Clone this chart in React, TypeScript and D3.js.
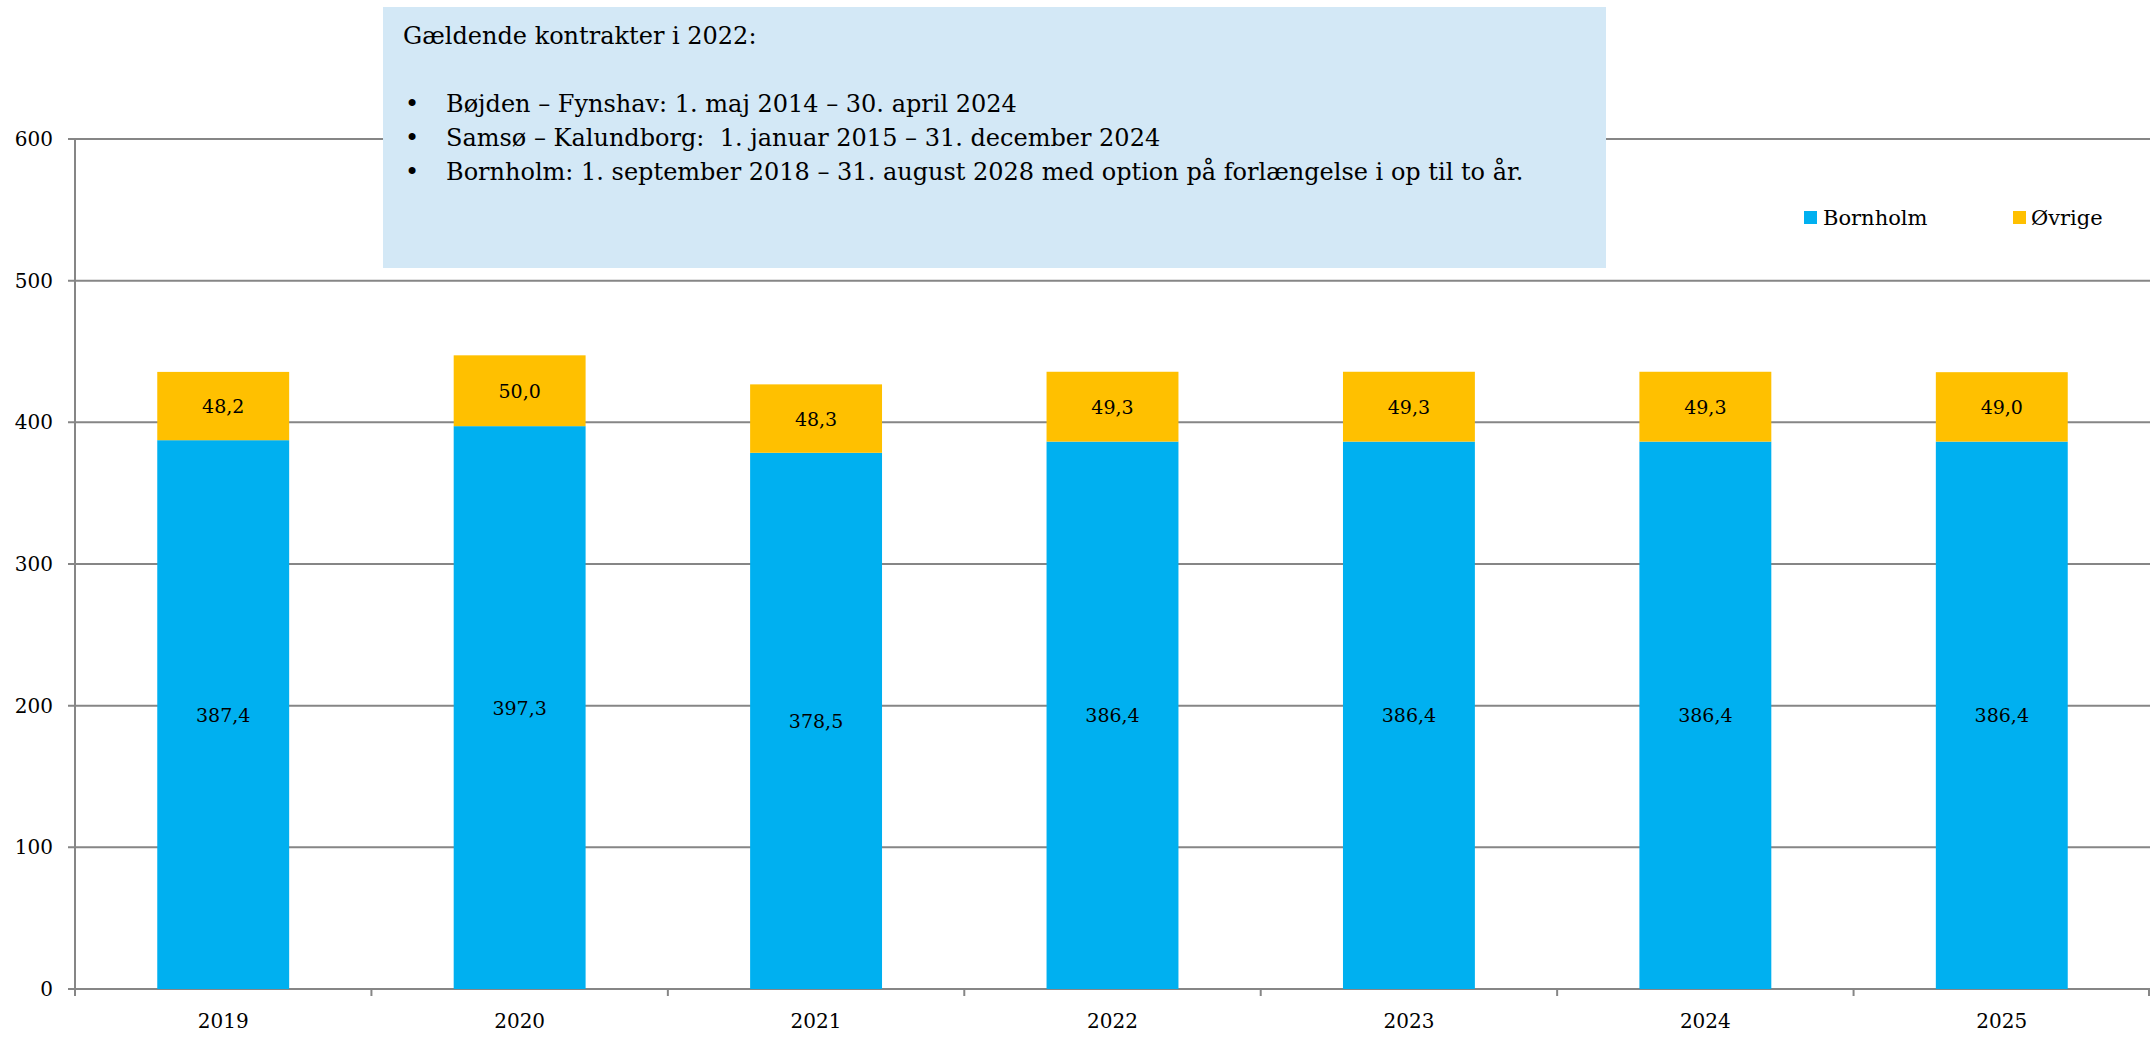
import React from "react";
import * as d3 from "d3";

const years = ["2019", "2020", "2021", "2022", "2023", "2024", "2025"];
const bornholm = [387.4, 397.3, 378.5, 386.4, 386.4, 386.4, 386.4];
const ovrige = [48.2, 50.0, 48.3, 49.3, 49.3, 49.3, 49.0];
const yTicks = [0, 100, 200, 300, 400, 500, 600];
const seriesNames = ["Bornholm", "Øvrige"];
const boxTitle = "Gældende kontrakter i 2022:";
const boxLines = [
  "Bøjden – Fynshav: 1. maj 2014 – 30. april 2024",
  "Samsø – Kalundborg:  1. januar 2015 – 31. december 2024",
  "Bornholm: 1. september 2018 – 31. august 2028 med option på forlængelse i op til to år.",
];

const W = 2151;
const H = 1038;
const FONT = "'DejaVu Serif', Georgia, serif";
const BLUE = "#00B0F0";
const ORANGE = "#FFC000";
const GRID = "#868686";

const fmt = (v: number) => v.toFixed(1).replace(".", ",");

export default function App() {
  const left = 75;
  const right = 2150;
  const y = d3.scaleLinear().domain([0, 600]).range([989, 139]);
  const x = d3.scaleBand<string>().domain(years).range([left, right]).padding(0);
  const barW = x.bandwidth() * 0.445;

  return (
    <svg
      width={W}
      height={H}
      style={{ position: "absolute", left: 0, top: 0, display: "block" }}
      fontFamily={FONT}
    >
      <rect x={0} y={0} width={W} height={H} fill="#fff" />
      {/* gridlines */}
      {yTicks.map((t) => (
        <g key={t}>
          <line x1={left - 7} x2={right} y1={y(t)} y2={y(t)} stroke={GRID} strokeWidth={2} />
          <text
            x={53}
            y={y(t)}
            textAnchor="end"
            dominantBaseline="central"
            fontSize={20}
            fill="#000"
          >
            {t}
          </text>
        </g>
      ))}
      {/* y axis */}
      <line x1={left} x2={left} y1={y(600)} y2={y(0)} stroke={GRID} strokeWidth={2} />
      {/* x ticks */}
      {years.map((yr) => (
        <line
          key={"t" + yr}
          x1={x(yr)!}
          x2={x(yr)!}
          y1={y(0)}
          y2={y(0) + 7}
          stroke={GRID}
          strokeWidth={2}
        />
      ))}
      <line x1={right - 1} x2={right - 1} y1={y(0)} y2={y(0) + 7} stroke={GRID} strokeWidth={2} />
      {/* bars */}
      {years.map((yr, i) => {
        const cx = x(yr)! + x.bandwidth() / 2;
        const b = bornholm[i];
        const o = ovrige[i];
        return (
          <g key={yr}>
            <rect x={cx - barW / 2} y={y(b)} width={barW} height={y(0) - y(b)} fill={BLUE} />
            <rect x={cx - barW / 2} y={y(b + o)} width={barW} height={y(b) - y(b + o)} fill={ORANGE} />
            <text
              x={cx}
              y={y(b / 2)}
              textAnchor="middle"
              dominantBaseline="central"
              fontSize={19}
              fill="#000"
            >
              {fmt(b)}
            </text>
            <text
              x={cx}
              y={y(b + o / 2)}
              textAnchor="middle"
              dominantBaseline="central"
              fontSize={19}
              fill="#000"
            >
              {fmt(o)}
            </text>
            <text
              x={cx}
              y={1021}
              textAnchor="middle"
              dominantBaseline="central"
              fontSize={20}
              fill="#000"
            >
              {yr}
            </text>
          </g>
        );
      })}
      {/* legend */}
      <rect x={1804} y={211} width={13} height={13} fill={BLUE} />
      <text x={1823} y={225} fontSize={21} fill="#000">
        {seriesNames[0]}
      </text>
      <rect x={2013} y={211} width={13} height={13} fill={ORANGE} />
      <text x={2031} y={225} fontSize={21} fill="#000">
        {seriesNames[1]}
      </text>
      {/* text box */}
      <rect x={383} y={7} width={1223} height={261} fill="#D3E8F6" />
      <text x={403} y={44} fontSize={24} fill="#000">
        {boxTitle}
      </text>
      {boxLines.map((l, i) => (
        <g key={i}>
          <text x={405} y={112 + i * 34} fontSize={24} fill="#000">
            •
          </text>
          <text
            x={446}
            y={112 + i * 34}
            fontSize={24}
            fill="#000"
            style={{ whiteSpace: "pre" }}
          >
            {l}
          </text>
        </g>
      ))}
    </svg>
  );
}
